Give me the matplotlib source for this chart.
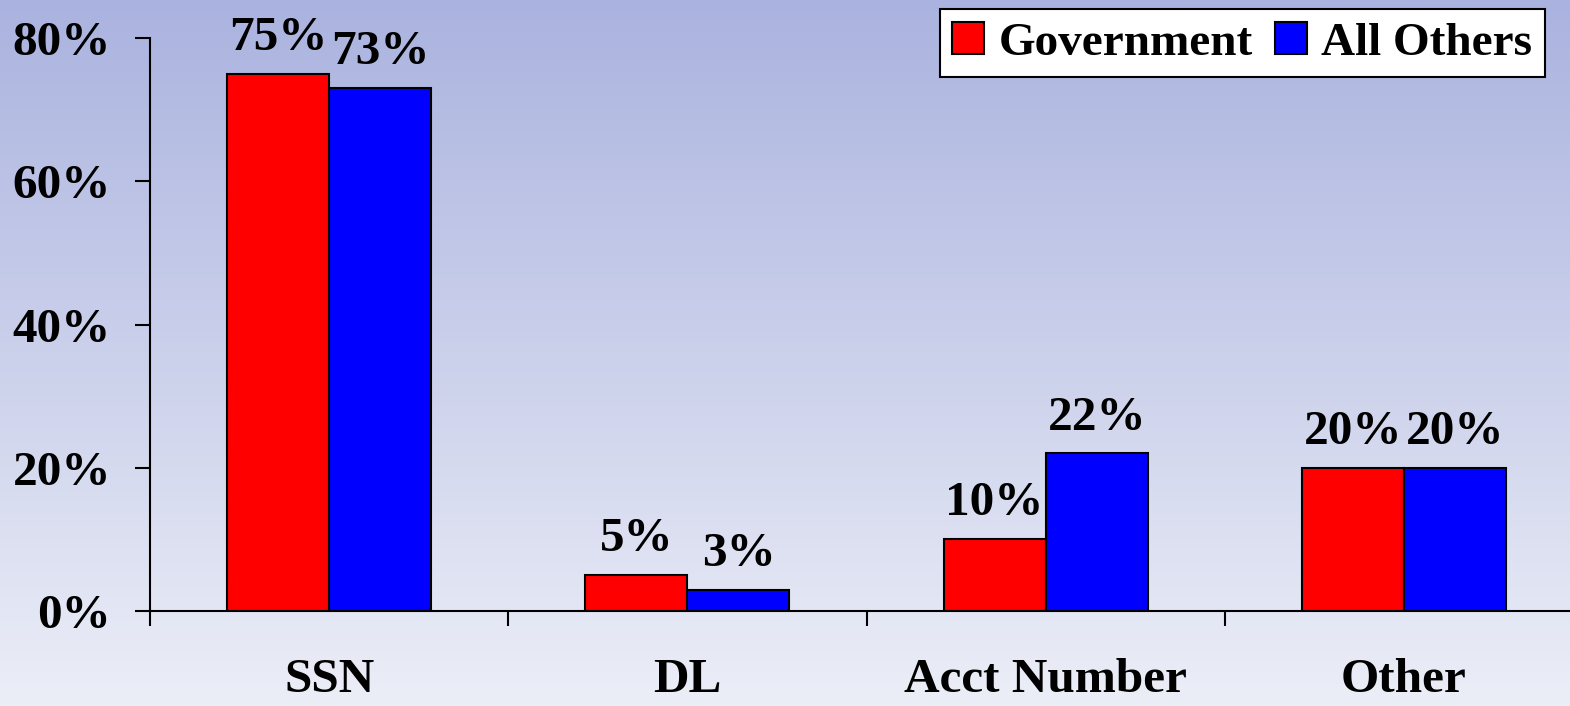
import matplotlib
matplotlib.use("Agg")
import matplotlib.pyplot as plt
import numpy as np

categories = ["SSN", "DL", "Acct Number", "Other"]
government = [75, 5, 10, 20]
all_others = [73, 3, 22, 20]
series_names = ["Government", "All Others"]
y_ticks = [0, 20, 40, 60, 80]
y_tick_labels = ["0%", "20%", "40%", "60%", "80%"]

plt.rcParams['font.family'] = ['Liberation Serif', 'DejaVu Serif']
plt.rcParams['font.weight'] = 'bold'

W, H = 1570, 706
fig = plt.figure(figsize=(W / 100, H / 100), dpi=100)

# background gradient
bg = fig.add_axes([0, 0, 1, 1], zorder=-10)
top = np.array([170, 179, 223]) / 255.0
bot = np.array([236, 238, 247]) / 255.0
t = np.linspace(0, 1, 256)[:, None]
grad = top[None, :] * (1 - t) + bot[None, :] * t
grad = np.repeat(grad[:, None, :], 2, axis=1)
bg.imshow(grad, aspect='auto', extent=[0, 1, 0, 1], origin='upper')
bg.axis('off')

left = 150 / W
bottom = (H - 611) / H
topf = (H - 38) / H
ax = fig.add_axes([left, bottom, 1 - left, topf - bottom])
ax.patch.set_alpha(0)

x = np.arange(len(categories))
w = 0.285
b1 = ax.bar(x - w / 2, government, w, color='#ff0000', edgecolor='black', linewidth=1.5, label=series_names[0])
b2 = ax.bar(x + w / 2, all_others, w, color='#0000ff', edgecolor='black', linewidth=1.5, label=series_names[1])

FS = 35.5
for bars, vals in ((b1, government), (b2, all_others)):
    for r, v in zip(bars, vals):
        ax.annotate(f"{v}%", (r.get_x() + r.get_width() / 2, r.get_height()),
                    xytext=(0, 10), textcoords='offset points', ha='center', va='bottom',
                    fontsize=FS, fontweight='bold', color='black')

ax.set_ylim(0, 80)
ax.set_xlim(-0.5, (W - 329) / 358.3)
ax.set_yticks(y_ticks)
ax.set_yticklabels(y_tick_labels)
ax.set_xticks(x)
ax.set_xticklabels(categories)
ax.set_xticks(np.arange(-0.5, len(categories) - 0.5, 1.0), minor=True)
ax.tick_params(axis='x', which='major', length=0, pad=34, labelsize=FS)
ax.tick_params(axis='x', which='minor', length=11, width=1.5, direction='out')
ax.tick_params(axis='y', length=11, width=1.5, pad=17, labelsize=FS)
for s in ['top', 'right']:
    ax.spines[s].set_visible(False)
for s in ['left', 'bottom']:
    ax.spines[s].set_linewidth(1.5)

leg = ax.legend(loc='upper right', bbox_to_anchor=(1545 / W, 1 - 9 / H),
                bbox_transform=fig.transFigure, ncol=2, frameon=True, fancybox=False,
                edgecolor='black', facecolor='white', framealpha=1,
                prop={'size': 34, 'weight': 'bold'}, handlelength=0.68, handleheight=0.68,
                handletextpad=0.3, columnspacing=0.47, borderpad=0.27, borderaxespad=0)
leg.get_frame().set_linewidth(1.5)
for p in leg.get_patches():
    p.set_linewidth(1.5)

fig.savefig("out.png", dpi=100)
